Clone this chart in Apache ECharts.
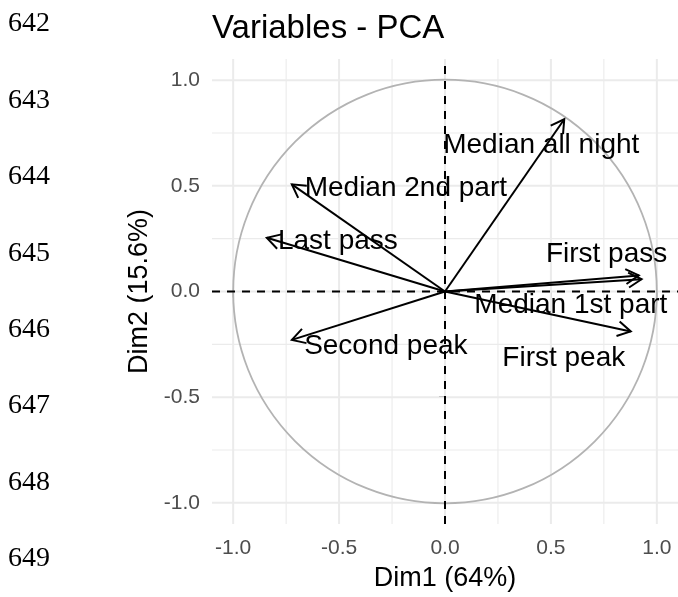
<!DOCTYPE html>
<html>
<head>
<meta charset="utf-8">
<script src="https://cdn.jsdelivr.net/npm/echarts@6/dist/echarts.min.js"></script>
<style>
html,body{margin:0;padding:0;background:#fff;}
#chart{width:678px;height:597px;}
</style>
</head>
<body>
<div id="chart"></div>
<script>
// ---- data ----
const variableNames = ['Median all night', 'Median 2nd part', 'Last pass', 'First pass', 'Median 1st part', 'Second peak', 'First peak'];
const dim1 = [0.563, -0.723, -0.841, 0.928, 0.915, -0.723, 0.877];
const dim2 = [0.815, 0.507, 0.254, 0.058, 0.076, -0.229, -0.189];
const majorTicks = [-1, -0.5, 0, 0.5, 1];
const minorTicks = [-0.75, -0.25, 0.25, 0.75];
const lineNumbers = ['642', '643', '644', '645', '646', '647', '648', '649'];
const chartTitle = 'Variables - PCA';
const xTitle = 'Dim1 (64%)';
const yTitle = 'Dim2 (15.6%)';

// ---- layout / style ----
const AX_MIN = -1.1, AX_MAX = 1.1;
const FONT = '"Liberation Sans", Arial, sans-serif';
const labelOffsets = [[-23, 26], [114, 4], [71, 3], [-35, -25], [-68, 30], [94, 6], [-67, 27]];

const chart = echarts.init(document.getElementById('chart'), null, {renderer: 'canvas'});

function gridRender(width) {
  return function (params, api) {
    const v = api.value(0);
    const a = api.coord([v, AX_MIN]), b = api.coord([v, AX_MAX]);
    const c = api.coord([AX_MIN, v]), d = api.coord([AX_MAX, v]);
    const st = {stroke: '#ebebeb', lineWidth: width};
    return {type: 'group', children: [
      {type: 'line', shape: {x1: a[0], y1: a[1], x2: b[0], y2: b[1]}, style: st},
      {type: 'line', shape: {x1: c[0], y1: c[1], x2: d[0], y2: d[1]}, style: st}
    ]};
  };
}

const arrowData = dim1.map((x, i) => [x, dim2[i]]);

const option = {
  backgroundColor: '#fff',
  animation: false,
  title: {
    text: chartTitle, left: 212, top: 12, padding: 0,
    textStyle: {fontSize: 33, fontWeight: 'normal', color: '#000', fontFamily: FONT}
  },
  grid: {left: 212, top: 59, width: 467, height: 468, containLabel: false},
  xAxis: {
    type: 'value', min: AX_MIN, max: AX_MAX,
    splitLine: {show: false}, axisLine: {show: false},
    axisTick: {show: true, customValues: majorTicks, length: 6, lineStyle: {color: '#333', width: 1.6}},
    axisLabel: {customValues: majorTicks, formatter: v => v.toFixed(1), color: '#4d4d4d', fontSize: 21, margin: 14, fontFamily: FONT},
    name: xTitle, nameLocation: 'middle', nameGap: 41,
    nameTextStyle: {fontSize: 27, color: '#000', fontFamily: FONT}
  },
  yAxis: {
    type: 'value', min: AX_MIN, max: AX_MAX,
    splitLine: {show: false}, axisLine: {show: false},
    axisTick: {show: true, customValues: majorTicks, length: 6, lineStyle: {color: '#333', width: 1.6}},
    axisLabel: {customValues: majorTicks, formatter: v => v.toFixed(1), color: '#4d4d4d', fontSize: 21, margin: 12, fontFamily: FONT},
    name: yTitle, nameLocation: 'middle', nameGap: 55,
    nameTextStyle: {fontSize: 27, color: '#000', fontFamily: FONT}
  },
  graphic: lineNumbers.map((t, i) => ({
    type: 'text', left: 8, top: 10 + 76.4 * i,
    style: {text: t, font: '28px "Liberation Serif", "Times New Roman", serif', fill: '#000'}
  })),
  series: [
    {type: 'custom', z: 1, silent: true, data: minorTicks.map(v => [v, 0]), renderItem: gridRender(1.1)},
    {type: 'custom', z: 1, silent: true, data: majorTicks.map(v => [v, 0]), renderItem: gridRender(2)},
    {
      type: 'custom', z: 2, silent: true, data: [[0, 0, 1]],
      renderItem: function (params, api) {
        const c = api.coord([api.value(0), api.value(1)]);
        const r = api.size([api.value(2), 0])[0];
        return {type: 'circle', shape: {cx: c[0], cy: c[1], r: r}, style: {fill: 'none', stroke: '#b3b3b3', lineWidth: 1.8}};
      }
    },
    {
      type: 'custom', z: 3, silent: true, data: [[0, 0]],
      renderItem: function (params, api) {
        const a = api.coord([0, AX_MIN]), b = api.coord([0, AX_MAX]);
        const c = api.coord([AX_MIN, 0]), d = api.coord([AX_MAX, 0]);
        const st = {stroke: '#000', lineWidth: 2, lineDash: [8, 7]};
        return {type: 'group', children: [
          {type: 'line', shape: {x1: a[0], y1: a[1], x2: b[0], y2: b[1]}, style: st},
          {type: 'line', shape: {x1: c[0], y1: c[1], x2: d[0], y2: d[1]}, style: st}
        ]};
      }
    },
    {
      type: 'custom', z: 4, silent: true, data: arrowData,
      renderItem: function (params, api) {
        const o = api.coord([0, 0]);
        const t = api.coord([api.value(0), api.value(1)]);
        const ang = Math.atan2(t[1] - o[1], t[0] - o[0]);
        const L = 15, a = Math.PI / 6;
        const b1 = [t[0] - L * Math.cos(ang - a), t[1] - L * Math.sin(ang - a)];
        const b2 = [t[0] - L * Math.cos(ang + a), t[1] - L * Math.sin(ang + a)];
        const i = params.dataIndex;
        const off = labelOffsets[i];
        return {type: 'group', children: [
          {type: 'line', shape: {x1: o[0], y1: o[1], x2: t[0], y2: t[1]}, style: {stroke: '#000', lineWidth: 2}},
          {type: 'polyline', shape: {points: [b1, t, b2]}, style: {stroke: '#000', lineWidth: 2, fill: 'none'}},
          {type: 'text', style: {text: variableNames[i], x: t[0] + off[0], y: t[1] + off[1], align: 'center', verticalAlign: 'middle', fontSize: 28, fontFamily: FONT, fill: '#000'}}
        ]};
      }
    }
  ]
};
chart.setOption(option);
</script>
</body>
</html>
